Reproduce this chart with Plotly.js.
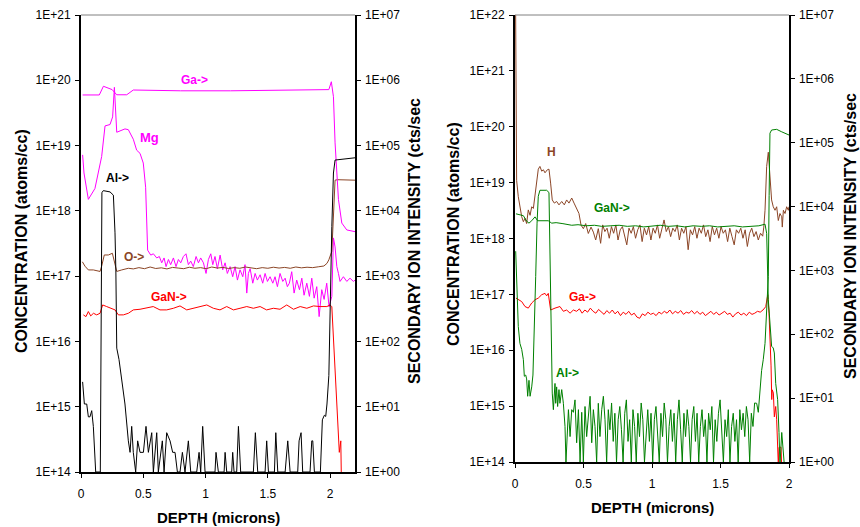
<!DOCTYPE html>
<html><head><meta charset="utf-8">
<script src="https://cdn.plot.ly/plotly-3.0.1.min.js"></script>
<style>html,body{margin:0;padding:0;background:#fff}#chart{width:860px;height:527px}</style>
</head><body><div id="chart"></div>
<script>
// ---------------- tick labels ----------------
const xTickVals = [0, 0.5, 1, 1.5, 2];
const xTickText = ['0', '0.5', '1', '1.5', '2'];
const concTickValsL = [1e14,1e15,1e16,1e17,1e18,1e19,1e20,1e21];
const concTickTextL = ['1E+14','1E+15','1E+16','1E+17','1E+18','1E+19','1E+20','1E+21'];
const concTickValsR = [1e14,1e15,1e16,1e17,1e18,1e19,1e20,1e21,1e22];
const concTickTextR = ['1E+14','1E+15','1E+16','1E+17','1E+18','1E+19','1E+20','1E+21','1E+22'];
const ionTickVals = [1,1e1,1e2,1e3,1e4,1e5,1e6,1e7];
const ionTickText = ['1E+00','1E+01','1E+02','1E+03','1E+04','1E+05','1E+06','1E+07'];

// ---------------- LEFT PANEL ----------------
// Ga-> (secondary ion intensity)
const depthGaL = [0.013,0.147,0.18,0.22,0.25,0.287,0.367,0.42,0.8,1.2,1.6,1.99,2.01,2.027,2.04,2.067,2.094,2.134,2.2];
const gaL = [5.96e5,5.96e5,8.1e5,7.6e5,7.2e5,6.0e5,6.0e5,7.1e5,6.9e5,6.9e5,7.0e5,7.2e5,9.5e5,5.6e5,1.1e5,1.5e4,6.5e3,5.1e3,4.8e3];

// Mg (concentration)
const depthMgL = [0.013,0.024,0.059,0.112,0.166,0.193,0.233,0.254,0.268,0.287,0.353,0.38,0.42,0.447,0.474,0.5,0.519,0.535,0.56,
 0.581,0.608,0.629,0.648,0.667,0.683,0.702,0.72,0.742,0.763,0.782,0.801,0.822,0.843,0.862,0.881,0.902,0.924,0.943,0.961,0.983,
 1.004,1.023,1.042,1.058,1.076,1.095,1.117,1.138,1.157,1.175,1.197,1.218,1.237,1.256,1.277,1.299,1.317,1.331,1.344,1.358,
 1.379,1.398,1.416,1.438,1.459,1.478,1.497,1.518,1.54,1.558,1.577,1.598,1.62,1.639,1.657,1.673,1.692,1.711,1.732,1.754,
 1.773,1.791,1.813,1.834,1.853,1.872,1.893,1.912,1.933,1.952,1.973,1.992,2.014,2.027,2.04,2.054,2.067,2.08,2.107,2.134,2.16,2.187,2.2];
const mgL = [7.2e18,3.8e18,1.5e18,2.2e18,6.8e18,2.0e19,2.1e19,2.75e19,7.8e19,1.6e19,1.8e19,1.75e19,1.25e19,8.5e18,7.6e18,5.4e18,2.3e18,2.5e17,2.1e17,
 2.2e17,1.9e17,2.0e17,1.6e17,1.9e17,1.4e17,1.8e17,1.5e17,1.9e17,1.4e17,1.8e17,1.6e17,2.0e17,2.2e17,1.5e17,1.7e17,1.4e17,2.0e17,1.6e17,1.9e17,1.6e17,
 1.1e17,1.8e17,2.2e17,1.5e17,2.0e17,1.3e17,2.1e17,1.25e17,1.6e17,1.1e17,1.4e17,9.8e16,1.4e17,8.7e16,1.25e17,9.8e16,1.5e17,5.5e16,1.1e17,1.3e17,
 7.8e16,1.1e17,8.7e16,1.05e17,7.8e16,1.1e17,8.3e16,9.8e16,7.8e16,9.8e16,6.9e16,1.1e17,8.3e16,9.3e16,6.9e16,7.8e16,1.17e17,5.5e16,8.7e16,6.2e16,
 9.3e16,5.1e16,7.8e16,4.9e16,9.3e16,4.6e16,6.9e16,2.4e16,6.2e16,4.4e16,7.8e16,3.4e16,4.9e16,3.85e17,2.8e17,1.4e17,1.1e17,8.3e16,9.8e16,8.3e16,9.3e16,8.3e16,8.7e16];

// O-> (secondary ion intensity)
const depthOL = [0.011,0.032,0.059,0.099,0.153,0.166,0.187,0.22,0.252,0.268,0.287,0.327,0.38,
 0.42,0.465,0.51,0.555,0.6,0.645,0.69,0.735,0.78,0.825,0.87,0.915,0.96,1.005,1.05,1.095,1.14,1.185,1.23,1.275,1.32,1.365,
 1.41,1.455,1.5,1.545,1.59,1.635,1.68,1.725,1.77,1.815,1.86,1.905,1.95,1.975,1.99,2.014,2.027,2.04,2.06,2.2];
const oL = [1660,1420,1245,1245,1180,1420,2110,2110,2240,1590,1180,1245,1320,
 1290,1350,1300,1380,1310,1340,1290,1360,1330,1300,1370,1320,1350,1300,1380,1330,1360,1310,1350,1320,1380,1330,
 1300,1350,1320,1370,1330,1360,1320,1380,1340,1370,1350,1390,1430,1570,1780,2400,1.15e4,2.95e4,3.0e4,2.95e4];

// GaN-> (secondary ion intensity)
const depthGaNL = [0.019,0.04,0.059,0.078,0.1,0.126,0.153,0.174,0.206,0.246,0.273,0.3,0.34,0.38,0.42,0.474,0.528,0.58,0.634,0.688,
 0.742,0.795,0.849,0.902,0.956,1.01,1.063,1.116,1.17,1.224,1.277,1.331,1.384,1.438,1.49,1.545,1.598,1.652,1.706,1.76,
 1.813,1.867,1.92,1.974,2.0,2.014,2.074,2.086,2.09];
const ganL = [255,240,287,246,270,255,270,362,342,322,304,255,255,270,304,311,322,342,304,304,
 322,350,304,322,342,362,322,304,342,304,322,342,322,342,304,322,311,362,311,342,
 322,350,342,342,362,340,2,3,0.9];

// Al-> (secondary ion intensity)
const depthAlL = [0.013,0.027,0.046,0.059,0.072,0.086,0.099,0.118,0.155,0.168,0.179,0.21,0.233,0.26,0.273,0.28,0.287,0.305,0.327,0.353,
 0.38,0.394,0.407,0.42,0.439,0.455,0.474,0.501,0.522,0.541,0.568,0.581,0.608,0.621,0.653,0.667,0.688,0.715,0.736,0.755,
 0.774,0.795,0.814,0.835,0.862,0.881,0.929,0.948,0.961,0.977,0.996,1.076,1.084,1.103,1.149,1.157,1.17,1.21,1.218,1.229,
 1.25,1.264,1.282,1.384,1.4,1.419,1.478,1.491,1.505,1.553,1.564,1.58,1.639,1.66,1.679,1.74,1.751,1.767,1.78,1.839,
 1.853,1.861,1.874,1.922,1.938,1.954,1.965,1.975,1.99,2.0,2.014,2.027,2.04,2.2];
const alL = [24,11,11,7,7,8.7,5,1,1,1.9e4,2.04e4,2.0e4,1.95e4,1.74e4,4.6e3,1.2e3,79,53,26,11,
 3,2,5,2,1,3,2,2,5,2,4,1,4,1,3,1,4,3,2,2,
 1,1,2,1,3,1,1,2,1,5,1,1,2,1,1,2,1,1,2,1,
 1,5,1,1,4,1,1,3,1,1,4,1,1,3,1,1,3,4,1,1,
 3,3,1,1,6.3,7.4,7.1,11,30,340,5750,3.8e4,6.0e4,6.5e4];

// ---------------- RIGHT PANEL ----------------
// H (concentration)
const depthH = [0.004,0.012,0.024,0.037,0.049,0.061,0.073,0.085,0.097,0.11,0.122,0.134,0.146,0.158,0.17,0.182,0.195,0.207,0.219,0.236,
 0.248,0.26,0.272,0.287,0.304,0.321,0.341,0.36,0.377,0.394,0.414,0.431,0.45,0.467,0.482,0.499,0.516,0.535,0.555,0.572,
 0.589,0.608,0.625,
 0.64,0.656,0.672,0.688,0.704,0.72,0.736,0.752,0.768,0.784,0.8,0.816,0.832,0.848,0.864,0.88,0.896,0.912,0.928,0.944,
 0.96,0.976,0.992,1.008,1.024,1.04,1.056,1.072,1.088,1.104,1.12,1.136,1.152,1.168,1.184,1.2,1.216,1.232,1.248,1.264,
 1.28,1.296,1.312,1.328,1.344,1.36,1.376,1.392,1.408,1.424,1.44,1.456,1.472,1.488,1.504,1.52,1.536,1.552,1.568,1.584,
 1.6,1.616,1.632,1.648,1.664,1.68,1.696,1.712,1.728,1.744,1.76,1.776,1.792,1.808,
 1.816,1.825,1.837,1.849,1.861,1.873,1.885,1.898,1.91,1.922,1.934,1.947,1.951,1.959,1.971,1.983,1.995,2.0];
const hR = [2e22,1.1e19,5.6e18,3.7e18,2.45e18,2.0e18,2.3e18,1.85e18,3.25e18,2.6e18,3.7e18,3.45e18,5.6e18,9.8e18,1.74e19,1.95e19,1.6e19,1.7e19,1.5e19,1.7e19,
 1.74e19,9.8e18,4.9e18,4.3e18,4.6e18,4.0e18,4.6e18,4.0e18,4.9e18,4.3e18,5.3e18,4.3e18,3.5e18,2.8e18,1.74e18,1.5e18,1.85e18,1.23e18,1.6e18,1.3e18,
 9.4e17,1.5e18,8.2e17,
 1.75e18,1.33e18,1.53e18,1.01e18,1.63e18,1.24e18,1.75e18,9.4e17,1.43e18,1.63e18,1.16e18,7.7e17,1.53e18,1.24e18,1.63e18,1.01e18,1.43e18,1.75e18,8.8e17,1.53e18,
 1.16e18,1.63e18,9.4e17,1.53e18,1.24e18,1.75e18,1.01e18,1.53e18,2.15e18,1.33e18,1.63e18,1.08e18,1.53e18,1.33e18,1.75e18,9.4e17,1.53e18,1.24e18,1.63e18,6.3e17,
 1.43e18,1.16e18,1.63e18,1.01e18,1.53e18,1.24e18,1.75e18,1.08e18,1.43e18,8.8e17,1.63e18,1.16e18,1.53e18,1.01e18,1.63e18,1.24e18,1.43e18,8.8e17,1.53e18,1.08e18,
 7.7e17,1.43e18,1.24e18,1.53e18,1.01e18,1.43e18,7.2e17,1.24e18,1.53e18,1.08e18,1.33e18,9.4e17,1.24e18,1.1e18,
 1.6e18,3.2e18,1.95e19,3.5e19,9.8e18,4.9e18,3.7e18,3.2e18,3.7e18,2.1e18,2.8e18,2.45e18,1.6e18,3.2e18,2.8e18,3.7e18,3.2e18,3.7e18];

// GaN-> (secondary ion intensity)
const depthGaNR = [0.007,0.035,0.061,0.085,0.102,0.122,0.146,0.165,0.2,0.243,0.268,0.3,0.35,0.414,0.46,0.52,0.58,0.633,0.7,0.76,
 0.82,0.88,0.94,1.0,1.06,1.12,1.18,1.24,1.3,1.36,1.42,1.48,1.54,1.6,1.66,1.72,1.78,1.825,1.837,1.849,
 1.861,1.873,1.885,1.893,1.903,1.91,1.917,1.927,1.934,1.947,1.959,1.966];
const ganR = [7.7e3,7.4e3,7.2e3,5.9e3,5.5e3,6.0e3,6.9e3,6.0e3,6.0e3,6.0e3,5.5e3,5.6e3,5.4e3,5.1e3,5.2e3,5.0e3,5.1e3,4.9e3,5.0e3,5.1e3,
 4.9e3,5.0e3,4.8e3,5.0e3,5.1e3,4.9e3,5.0e3,4.8e3,5.0e3,4.9e3,5.0e3,4.8e3,4.9e3,5.0e3,4.8e3,4.9e3,5.0e3,5.3e3,3.8e3,350,
 132,65,61,51,17,13.6,9.5,2.9,0.9,2.9,1.6,0.9];

// Ga-> (secondary ion intensity)
const depthGaR = [0.007,0.024,0.049,0.073,0.097,0.122,0.146,0.17,0.195,0.219,0.231,0.243,0.26,0.292,0.328,0.353,0.377,0.402,0.426,
 0.45,0.47,0.49,0.51,0.53,0.55,0.57,0.59,0.61,0.63,0.65,0.67,0.69,0.71,0.73,0.75,0.77,0.79,0.81,0.83,
 0.85,0.87,0.89,0.91,0.93,0.95,0.97,0.99,1.01,1.03,1.05,1.07,1.09,1.11,1.13,1.15,1.17,1.19,1.21,1.23,
 1.25,1.27,1.29,1.31,1.33,1.35,1.37,1.39,1.41,1.43,1.45,1.47,1.49,1.51,1.53,1.55,1.57,1.59,1.61,1.63,
 1.65,1.67,1.69,1.71,1.73,1.75,1.77,1.79,1.81,1.83,
 1.845,1.854,1.861,1.869,1.874,1.878,1.886,1.893,1.903,1.91,1.922,1.927,1.942,1.946];
const gaR = [369,347,325,272,257,309,347,369,417,437,400,437,240,257,272,229,240,214,240,
 229,250,214,240,222,257,229,214,245,222,205,235,214,240,209,229,196,222,205,229,
 200,214,186,178,209,196,222,205,214,196,222,209,229,214,240,209,229,214,235,205,
 222,214,235,209,229,205,222,196,214,229,205,222,200,214,229,205,214,186,209,222,
 200,214,196,222,205,214,229,222,240,270,
 417,214,105,32,9.5,13.5,12,5.1,7.4,4.6,0.9,1.7,1.7,0.9];

// Al-> (secondary ion intensity)
const depthAlR = [0.005,0.012,0.024,0.036,0.049,0.061,0.068,0.078,0.085,0.0925,0.102,0.11,0.122,0.131,0.141,0.151,0.161,0.17,0.182,0.231,
 0.248,0.255,0.263,0.272,0.28,0.292,0.297,0.304,0.311,0.321,0.328,0.341,0.353,0.365,0.372,0.38,0.39,0.402,0.414,0.426,
 0.438,0.45,0.463,0.475,0.487,0.499,0.511,0.523,0.535,0.548,0.56,0.572,0.584,0.596,0.608,0.62,0.633,0.645,
 0.657,0.669,0.681,0.693,0.705,0.717,0.729,0.741,0.753,0.765,0.777,0.789,0.801,0.813,0.825,0.837,0.849,0.861,0.873,0.885,
 0.897,0.909,0.921,0.933,0.945,0.957,0.969,0.981,0.993,1.005,1.017,1.029,1.041,1.053,1.065,1.077,1.089,1.101,1.113,1.125,
 1.137,1.149,1.161,1.173,1.185,1.197,1.209,1.221,1.233,1.245,1.257,1.269,1.281,1.293,1.305,1.317,1.329,1.341,1.353,1.365,
 1.377,1.389,1.401,1.413,1.425,1.437,1.449,1.461,1.473,1.485,1.497,1.509,1.521,1.533,1.545,1.557,1.569,1.581,1.593,1.605,
 1.617,1.629,1.641,1.653,1.665,1.677,1.689,1.701,1.713,1.725,1.737,1.749,
 1.764,1.776,1.788,1.8,1.812,1.825,1.837,1.849,1.855,1.861,1.873,1.91,1.947,1.97,2.0];
const alR = [2000,600,132,72,58,40,22,23,20,10.7,19,10.7,15,23,93,800,5500,1.45e4,1.8e4,1.8e4,
 1.66e4,2700,240,12,6.6,17,8.3,15,7.4,13.6,8.3,13.6,8.3,3.6,1,3.3,6.6,2.5,6.6,6.0,
 9.4,2,6.6,1,6.0,1,7.4,2.5,5.5,10.7,2,6.6,3.6,1,8.3,2.5,6.6,10.7,
 4.6,1,6.6,3.2,8.4,2.1,5.8,1,4.6,7.4,3.2,1,5.8,9.4,2.1,4.6,1,6.6,3.6,1,
 5.8,2.5,8.4,4.6,1,3.2,6.6,2.1,5.8,1,4.6,7.4,3.2,1,5.8,2.5,8.4,4.6,1,3.6,
 6.6,2.1,5.8,1,4.6,9.4,3.2,1,5.8,2.5,6.6,3.6,1,4.6,7.4,2.1,5.8,1,3.6,6.6,
 2.5,4.6,1,5.8,3.2,7.4,1,4.6,2.1,5.8,9.4,3.6,1,4.6,2.5,6.6,1,3.6,5.8,2.1,
 4.6,1,6.6,3.2,5.8,2.5,7.4,4.6,1,5.8,3.6,8.4,
 8.3,6,15,27,40,72,240,800,1.5e4,1.41e5,1.58e5,1.62e5,1.48e5,1.42e5,1.32e5];

// ---------------- styling ----------------
const W = 860, H = 527;
const FONT = 'Liberation Sans, Arial, Helvetica, sans-serif';
const MAGENTA = '#FF00FF', BROWN = '#8B4526', RED = '#FF0000', GREEN = '#008000', BLACK = '#000000';

function line(x, y, xa, ya, color) {
  return {type:'scatter', mode:'lines', x:x, y:y, xaxis:xa, yaxis:ya,
          line:{color:color, width:1}, hoverinfo:'skip'};
}
const traces = [
  line(depthMgL, mgL, 'x', 'y', MAGENTA),
  line(depthGaNL, ganL, 'x', 'y2', RED),
  line(depthOL, oL, 'x', 'y2', BROWN),
  line(depthGaL, gaL, 'x', 'y2', MAGENTA),
  line(depthAlL, alL, 'x', 'y2', BLACK),
  line(depthH, hR, 'x2', 'y3', BROWN),
  line(depthGaR, gaR, 'x2', 'y4', RED),
  line(depthAlR, alR, 'x2', 'y4', GREEN),
  line(depthGaNR, ganR, 'x2', 'y4', GREEN)
];

const tickFont = {family:FONT, size:12, color:'#000'};
const domL = [81/W, 355/W], domR = [515/W, 789/W];
const ydomL = [(H-472)/H, (H-15)/H], ydomR = [(H-462)/H, (H-15)/H];

function xAxis(dom, range, anchor) {
  return {domain:dom, range:range, anchor:anchor, tickmode:'array', tickvals:xTickVals, ticktext:xTickText,
          ticks:'outside', ticklen:4, tickwidth:1, tickcolor:'#000', showline:true, linecolor:'#000', linewidth:1.5,
          showgrid:false, zeroline:false, tickfont:tickFont, ticklabelstandoff:6, fixedrange:true};
}
function yAxis(dom, range, vals, text, anchor, side, overlay, linew) {
  const a = {type:'log', range:range, anchor:anchor, side:side, tickmode:'array', tickvals:vals, ticktext:text,
          ticks:'outside', ticklen:4, tickwidth:1, tickcolor:'#000', showline:true, linecolor:'#000', linewidth:linew,
          showgrid:false, zeroline:false, tickfont:tickFont, ticklabelstandoff:2, fixedrange:true};
  if (overlay) a.overlaying = overlay; else a.domain = dom;
  return a;
}
function innerTicks(range, vals, anchor, overlay) {
  return {type:'log', range:range, anchor:anchor, side:'right', overlaying:overlay, tickmode:'array', tickvals:vals,
          showticklabels:false, ticks:'inside', ticklen:4, tickwidth:1, tickcolor:'#000', showline:false,
          showgrid:false, zeroline:false, fixedrange:true};
}

function ann(text, px, py, color, size, angle) {
  return {text:text, x:px/W, y:1-py/H, xref:'paper', yref:'paper', xanchor:'center', yanchor:'middle',
          showarrow:false, textangle:angle||0, font:{family:FONT, size:size, color:color}};
}
const annotations = [
  ann('<b>CONCENTRATION (atoms/cc)</b>', 22, 241, '#000', 16, -90),
  ann('<b>SECONDARY ION INTENSITY (cts/sec</b>', 415, 241, '#000', 16, -90),
  ann('<b>DEPTH (microns)</b>', 218, 517, '#000', 15),
  ann('<b>CONCENTRATION (atoms/cc)</b>', 453, 234, '#000', 16, -90),
  ann('<b>SECONDARY ION INTENSITY (cts/sec</b>', 851, 236, '#000', 16, -90),
  ann('<b>DEPTH (microns)</b>', 652, 507, '#000', 15),
  ann('<b>Ga-></b>', 194, 80, MAGENTA, 12),
  ann('<b>Mg</b>', 149, 137, MAGENTA, 13),
  ann('<b>Al-></b>', 117, 178, BLACK, 12),
  ann('<b>O-></b>', 134, 257, BROWN, 12),
  ann('<b>GaN-></b>', 169, 297, RED, 12),
  ann('<b>H</b>', 551, 152, BROWN, 12),
  ann('<b>GaN-></b>', 612, 208, GREEN, 12),
  ann('<b>Ga-></b>', 582, 297, RED, 12),
  ann('<b>Al-></b>', 567, 373, GREEN, 12)
];

const layout = {
  width:W, height:H, margin:{l:0, r:0, t:0, b:0}, paper_bgcolor:'#fff', plot_bgcolor:'rgba(0,0,0,0)',
  showlegend:false, font:{family:FONT, size:12, color:'#000'},
  xaxis: xAxis(domL, [0, 2.2], 'y'),
  yaxis: yAxis(ydomL, [14, 21], concTickValsL, concTickTextL, 'x', 'left', null, 2),
  yaxis2: yAxis(null, [0, 7], ionTickVals, ionTickText, 'x', 'right', 'y', 1.5),
  yaxis5: innerTicks([0, 7], ionTickVals, 'x', 'y'),
  xaxis2: xAxis(domR, [0, 2], 'y3'),
  yaxis3: yAxis(ydomR, [14, 22], concTickValsR, concTickTextR, 'x2', 'left', null, 2),
  yaxis4: yAxis(null, [0, 7], ionTickVals, ionTickText, 'x2', 'right', 'y3', 1.5),
  yaxis6: innerTicks([0, 7], ionTickVals, 'x2', 'y3'),
  shapes: [
    {type:'line', xref:'x domain', yref:'y domain', x0:0, x1:1, y0:1, y1:1, line:{color:'#808080', width:1}},
    {type:'line', xref:'x2 domain', yref:'y3 domain', x0:0, x1:1, y0:1, y1:1, line:{color:'#808080', width:1}}
  ],
  annotations: annotations
};

Plotly.newPlot('chart', traces, layout, {staticPlot:true, displayModeBar:false});
</script>
</body></html>
